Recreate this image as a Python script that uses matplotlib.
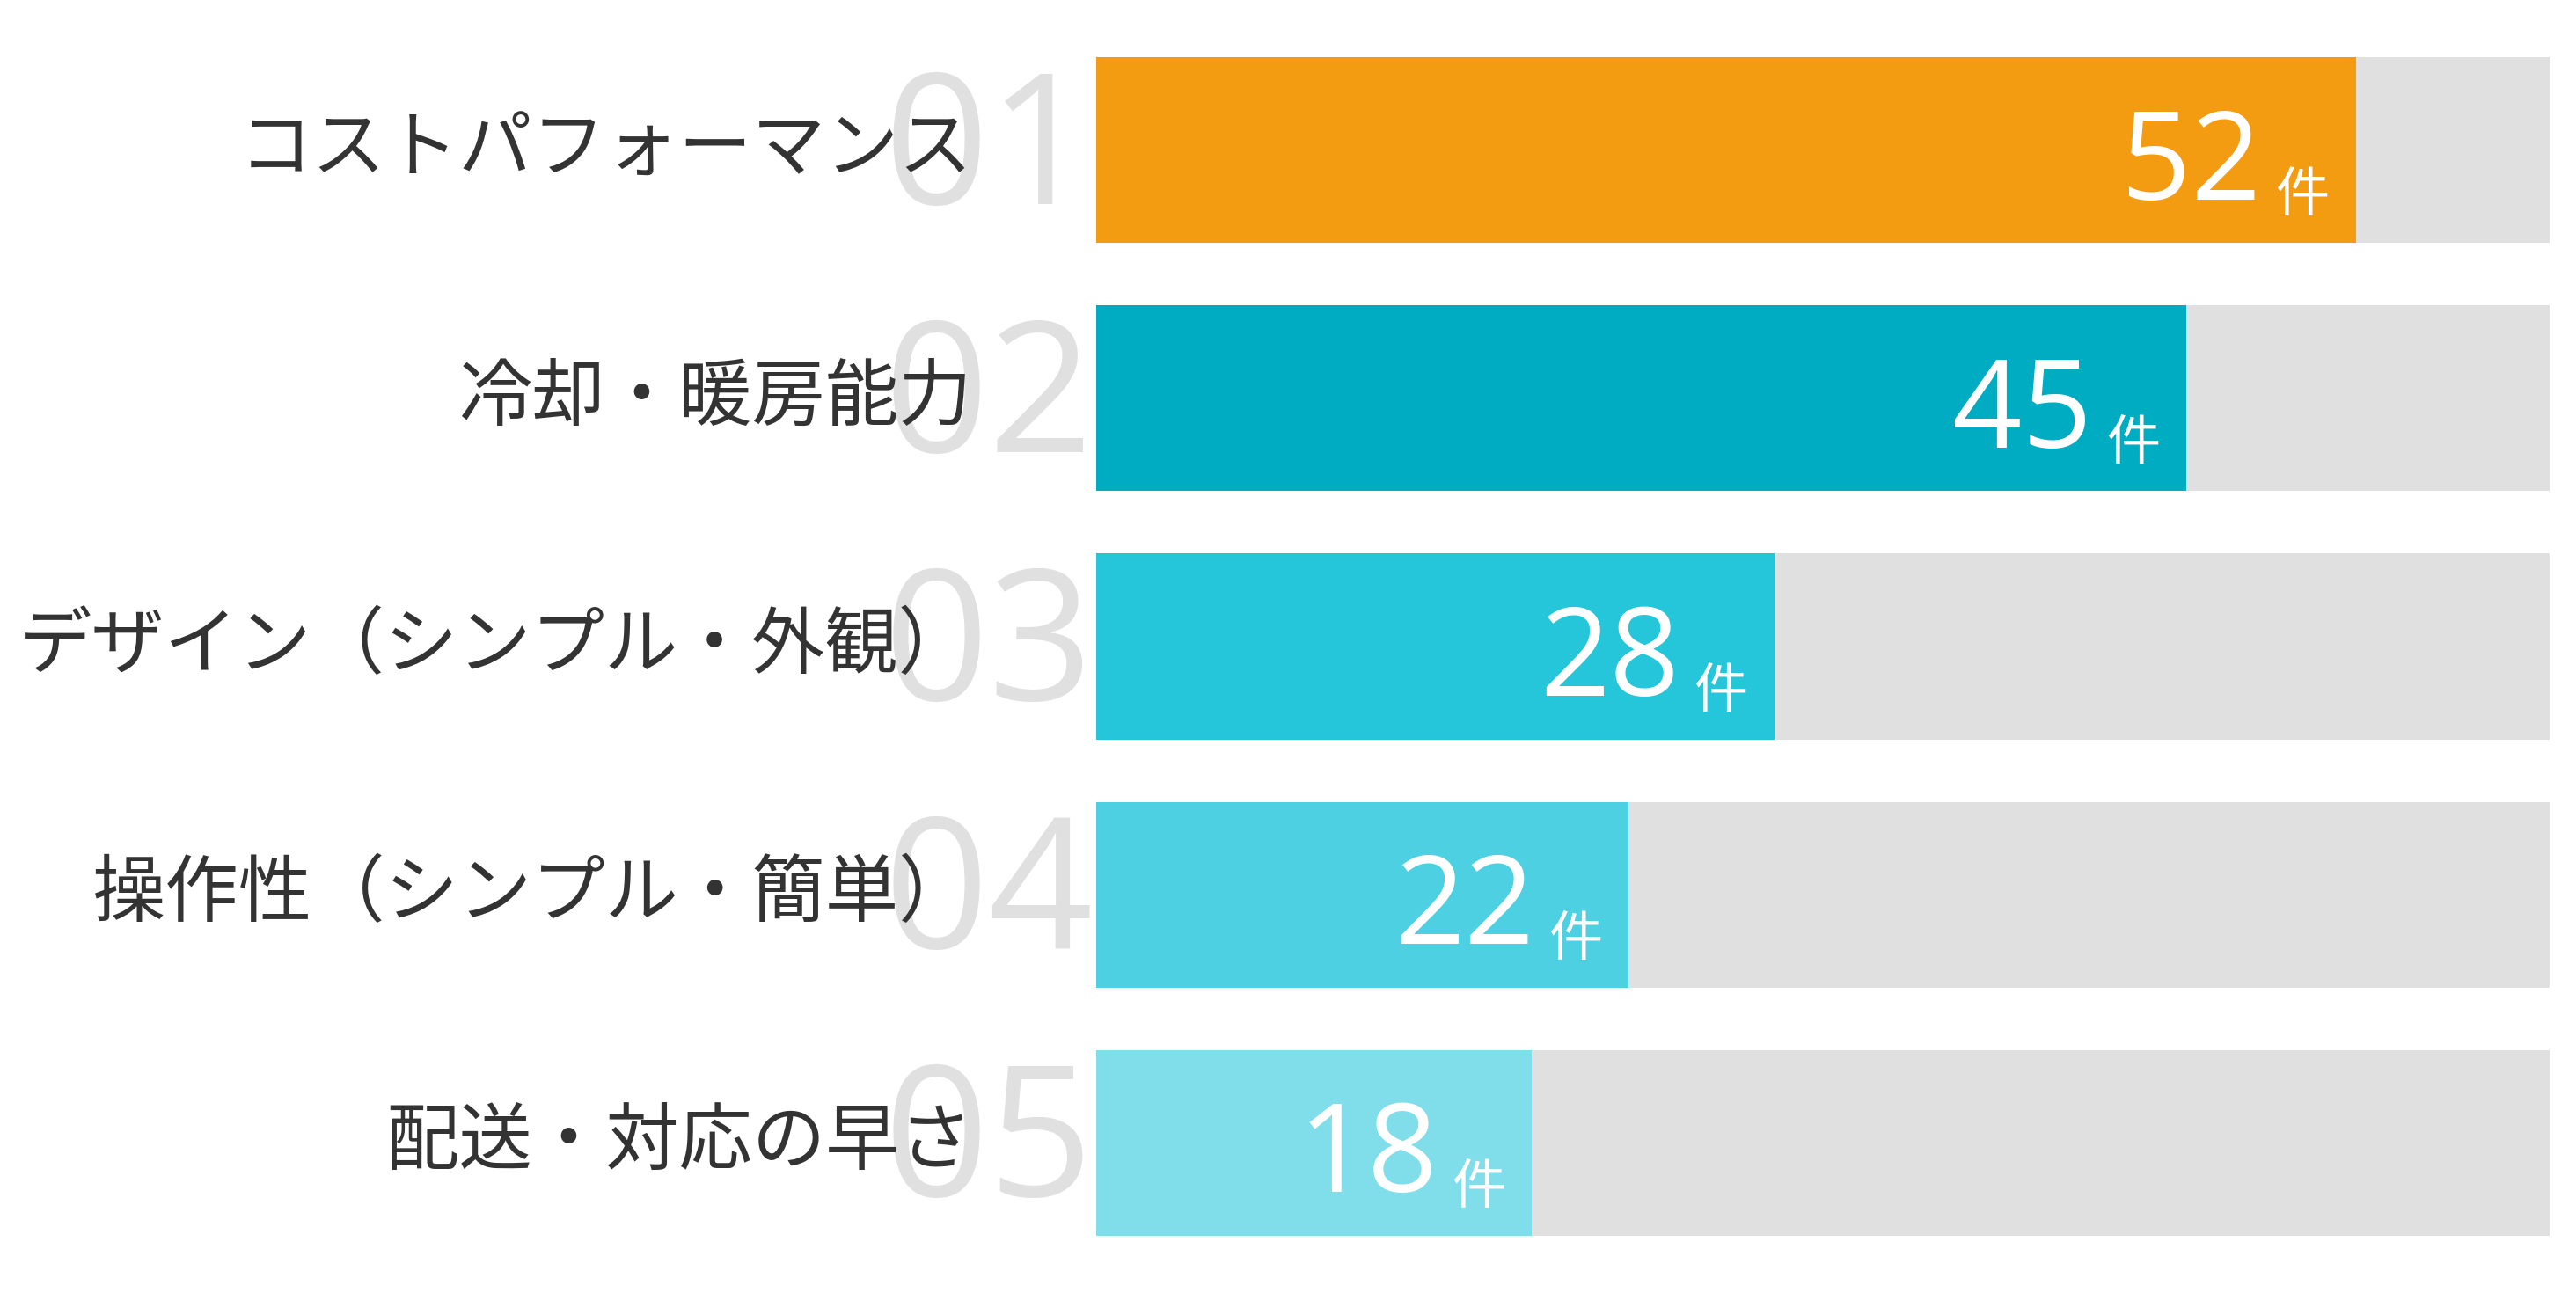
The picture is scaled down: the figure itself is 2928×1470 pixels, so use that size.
import matplotlib.pyplot as plt

plt.rcParams['font.family'] = ['Noto Sans CJK JP', 'DejaVu Sans']

categories = ['コストパフォーマンス', '冷却・暖房能力', 'デザイン（シンプル・外観）',
              '操作性（シンプル・簡単）', '配送・対応の早さ']
values = [52, 45, 28, 22, 18]
ranks = ['01', '02', '03', '04', '05']
colors = ['#F39C12', '#00ACC1', '#26C6DA', '#4DD0E1', '#80DEEA']
full = 60

fig = plt.figure(figsize=(29.28, 14.7), dpi=100)
ax = fig.add_axes([0, 0, 1, 1])
# x in data units, y in reference-pixel rows
ax.set_xlim(-667 / 885 * full, full + 16 / 885 * full)
ax.set_ylim(787, 0)
ax.axis('off')

for i, (cat, v, r, c) in enumerate(zip(categories, values, ranks, colors)):
    y = 91.5 + 151 * i
    ax.barh(y, full, height=113, left=0, color='#E0E0E0', zorder=1)
    ax.barh(y, v, height=113, left=0, color=c, zorder=2)
    ax.text(-0.1, y + 4, r, ha='right', va='center', fontsize=150,
            color='#E0E0E0', family=['Open Sans', 'DejaVu Sans'], zorder=0)
    ax.text(-5.1, y, cat, ha='right', va='center', fontsize=60,
            color='#333333', zorder=3)
    ax.text(v - 3.9, y + 30, str(v), ha='right', va='baseline', fontsize=100,
            color='white', family=['Open Sans', 'DejaVu Sans'], zorder=4)
    ax.text(v - 1.1, y + 37, '件', ha='right', va='baseline', fontsize=44,
            color='white', zorder=4)

fig.savefig('out.png', dpi=100)
